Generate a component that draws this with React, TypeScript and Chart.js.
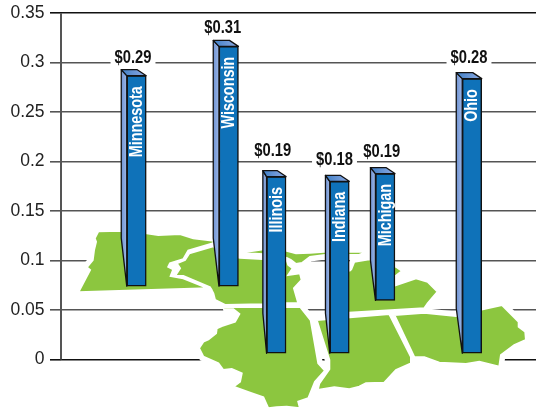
import React, { useEffect, useRef } from "react";
import { Chart, registerables } from "chart.js";

Chart.register(...registerables);

const states = ["Minnesota", "Wisconsin", "Illinois", "Indiana", "Michigan", "Ohio"];
const priceLabels = ["$0.29", "$0.31", "$0.19", "$0.18", "$0.19", "$0.28"];
const barTops = [0.2867, 0.3163, 0.1848, 0.18, 0.1878, 0.2837];
const barBases = [0.0741, 0.0741, 0.0063, 0.0063, 0.0597, 0.0063];
const mapEastings = [75.5, 167.7, 215.3, 278.5, 324.2, 411];
const yTicks = [0, 0.05, 0.1, 0.15, 0.2, 0.25, 0.3, 0.35];

// Regional map outlines in map units (east, north)
const minnesotaIowa = [[37.3,177.7],[60.7,178.3],[85.7,175.7],[97.3,174],[119,175],[132.3,170.7],[153,168.3],[152.3,165.7],[127.3,158.3],[122.3,149.7],[109,145.7],[107.3,142.3],[112.3,139.7],[109.7,133],[122.3,130.7],[147.3,120.7],[17.3,116.7],[29,139],[25.7,141.7],[31.7,149],[33,159],[35,167.3],[33.7,170.7]];
const wisconsin = [[128.3,155.7],[153,163],[155.7,155.7],[179,151.3],[201.7,150],[225.7,149],[227.3,144],[231.7,140.7],[227.3,134],[239,135.7],[240.7,129],[233,120.7],[237.3,105.7],[225.7,105.7],[202.3,104.7],[164,104],[154,109],[152.3,115.7],[149,121.7],[122.3,133],[114,133],[119,140.7],[115.7,145.7],[124,149]];
const upperMichigan = [[179,156.3],[202.3,159.7],[225.7,158.3],[235,155.7],[249,156.3],[263,157.3],[306.7,157.3],[298,154],[264,154],[249,152],[241,146],[235,145],[230,149],[225.7,151],[202,154.7]];
const lowerMichigan = [[290,139],[293.3,147.3],[308.3,149.7],[335,142.3],[341,138],[335,133.3],[335,124],[355,130.7],[366.7,127.3],[376.7,117.3],[366.7,105.7],[363.3,100.7],[288,96.3],[274,96],[274,134]];
const illinois = [[162.3,100],[172.3,99.7],[178.3,95],[174,87.3],[160.7,83],[155.7,80.7],[155,75.7],[147.3,69.7],[142.3,67.3],[138,60.7],[142.3,52.3],[157.3,45.7],[162.3,39],[170.7,40],[180.7,35.7],[179,27.3],[172.3,22.3],[189,16.3],[202.3,11.7],[207.3,0.7],[215.7,1.7],[225.7,2.3],[239,0.7],[237.3,7.3],[247.3,10.7],[254,27.3],[264,38.3],[257.3,45.7],[249.7,89],[239,102.3],[162.3,102]];
const indianaKentucky = [[255.7,89],[328.3,95],[350,52.3],[350,45.7],[335,39],[323.3,26.3],[305,25.7],[298.3,22.3],[288.3,19.7],[273.3,21.7],[256.7,19],[258.3,25.7],[268.3,39.7],[268.3,49]];
const ohio = [[333.3,94],[363.3,96.3],[395,93],[421.7,99.7],[441,104],[457.7,87.3],[457.7,82.3],[464.3,77.3],[465,69],[453.3,64],[440,54],[438.3,42.3],[418.3,47.3],[405,45],[378.3,46.3],[363.3,51.7],[353.3,51.7]];
const mapShapes = [minnesotaIowa, wisconsin, upperMichigan, lowerMichigan, illinois, indianaKentucky, ohio];

const labelLifts = [18, 18, 26, 21, 22, 21];
const labelShifts = [-3.5, -6, -3.5, -5, -3.5, -3];
const sideDepths = [5.5, 5.7, 3.7, 4.3, 5, 6];
const taperHeights = [48, 48, 40, 40, 40, 45];

const closed = (s: number[][]) => [...s, s[0]].map(([x, y]) => ({ x, y }));

const narrowText = (ctx: any, text: string, x: number, y: number, angle: number, align: string) => {
  ctx.save();
  ctx.translate(x, y);
  ctx.rotate(angle);
  ctx.scale(0.82, 1);
  ctx.textAlign = align;
  ctx.textBaseline = "middle";
  ctx.fillText(text, 0, 0);
  ctx.restore();
};

const barDecor = {
  id: "barDecor",
  beforeDatasetsDraw(chart: any) {
    const { ctx, scales } = chart;
    ctx.save();
    ctx.strokeStyle = "#555";
    ctx.lineWidth = 2;
    ctx.beginPath();
    ctx.moveTo(61, scales.y.getPixelForValue(0.35));
    ctx.lineTo(61, scales.y.getPixelForValue(0));
    ctx.stroke();
    ctx.restore();
  },
  afterDatasetsDraw(chart: any) {
    const { ctx } = chart;
    const meta = chart.getDatasetMeta(chart.data.datasets.findIndex((d: any) => d.type === "bar"));
    ctx.save();
    meta.data.forEach((bar: any, i: number) => {
      const w = bar.width;
      const l = bar.x - w / 2;
      const r = bar.x + w / 2;
      const t = bar.y;
      const b = bar.base;
      const d = sideDepths[i];
      const h = 6;
      ctx.strokeStyle = "#111";
      ctx.lineWidth = 1.3;
      ctx.lineJoin = "round";
      const sg = ctx.createLinearGradient(l - d, 0, l, 0);
      sg.addColorStop(0, "#6f93d2");
      sg.addColorStop(1, "#9cb6e6");
      ctx.fillStyle = sg;
      ctx.beginPath();
      ctx.moveTo(l - d, t - h);
      ctx.lineTo(l, t);
      ctx.lineTo(l, b);
      ctx.lineTo(l - d, b - taperHeights[i]);
      ctx.closePath();
      ctx.fill();
      ctx.stroke();
      const tg = ctx.createLinearGradient(l - d, 0, r, 0);
      tg.addColorStop(0, "#3f7fc6");
      tg.addColorStop(1, "#8fabe3");
      ctx.fillStyle = tg;
      ctx.beginPath();
      ctx.moveTo(l - d, t - h);
      ctx.lineTo(r - 9, t - h);
      ctx.lineTo(r, t);
      ctx.lineTo(l, t);
      ctx.closePath();
      ctx.fill();
      ctx.stroke();
      ctx.fillStyle = "#fff";
      ctx.font = "bold 17.5px 'Liberation Sans'";
      narrowText(ctx, states[i], bar.x + 0.5, t + 10.5, -Math.PI / 2, "right");
      ctx.font = "bold 18px 'Liberation Sans'";
      const lx = bar.x + labelShifts[i];
      const ly = t - labelLifts[i];
      const tw = ctx.measureText(priceLabels[i]).width * 0.82;
      ctx.fillStyle = "#fff";
      ctx.fillRect(lx - tw / 2 - 4, ly - 9, tw + 8, 18);
      ctx.fillStyle = "#111";
      narrowText(ctx, priceLabels[i], lx, ly, 0, "center");
    });
    ctx.restore();
  },
};

export default function App() {
  const ref = useRef<HTMLCanvasElement>(null);
  useEffect(() => {
    const mapLine = { type: "line", xAxisID: "x", yAxisID: "mapY", pointRadius: 0, tension: 0 };
    const chart = new Chart(ref.current!, {
      type: "bar",
      data: {
        datasets: [
          {
            type: "bar",
            label: "Price",
            order: 0,
            data: states.map((_, i) => ({ x: mapEastings[i], y: [barBases[i], barTops[i]] })),
            backgroundColor: "#0f72b9",
            borderColor: "#111",
            borderWidth: 1.5,
            borderSkipped: false,
            barThickness: 19.5,
            yAxisID: "y",
            xAxisID: "x",
          },
          ...mapShapes.map((s) => ({
            ...mapLine,
            order: 1,
            data: closed(s),
            fill: "shape",
            backgroundColor: "#8cc63f",
            borderColor: "#fff",
            borderWidth: 2,
          })),
          ...mapShapes.map((s) => ({
            ...mapLine,
            order: 2,
            data: closed(s),
            fill: false,
            borderColor: "#fff",
            borderWidth: 9,
          })),
        ] as any,
      },
      options: {
        animation: false,
        responsive: false,
        events: [],
        layout: { padding: { top: 13, right: 0, bottom: 0, left: 0 } },
        plugins: { legend: { display: false }, tooltip: { enabled: false } },
        scales: {
          x: { type: "linear", min: 0, max: 475, display: false, offset: false, grid: { offset: false } },
          mapY: { type: "linear", min: 0, max: 396, display: false, position: "right" },
          y: {
            type: "linear",
            min: -0.05,
            max: 0.35,
            afterBuildTicks(axis: any) {
              axis.ticks = [-0.05, ...yTicks].map((value) => ({ value }));
            },
            afterFit(axis: any) {
              axis.width = 61;
              axis.paddingTop = 0;
              axis.paddingBottom = 0;
            },
            border: { display: false },
            grid: {
              color: (c: any) =>
                c.tick.value < -0.01 ? "rgba(0,0,0,0)" : c.tick.value === 0 || c.tick.value === 0.35 ? "#111" : "#555",
              lineWidth: 1.6,
              tickLength: 11,
            },
            ticks: {
              padding: 5.5,
              color: "#222",
              font: { family: "'Liberation Sans'", size: 17.5 },
              autoSkip: false,
              callback: (v: any) => (v < -0.01 ? "" : String(v)),
            },
          },
        },
      } as any,
      plugins: [barDecor],
    });
    return () => chart.destroy();
  }, []);
  return (
    <div style={{ position: "absolute", left: 0, top: 0 }}>
      <canvas ref={ref} width={536} height={409} style={{ display: "block" }} />
    </div>
  );
}
